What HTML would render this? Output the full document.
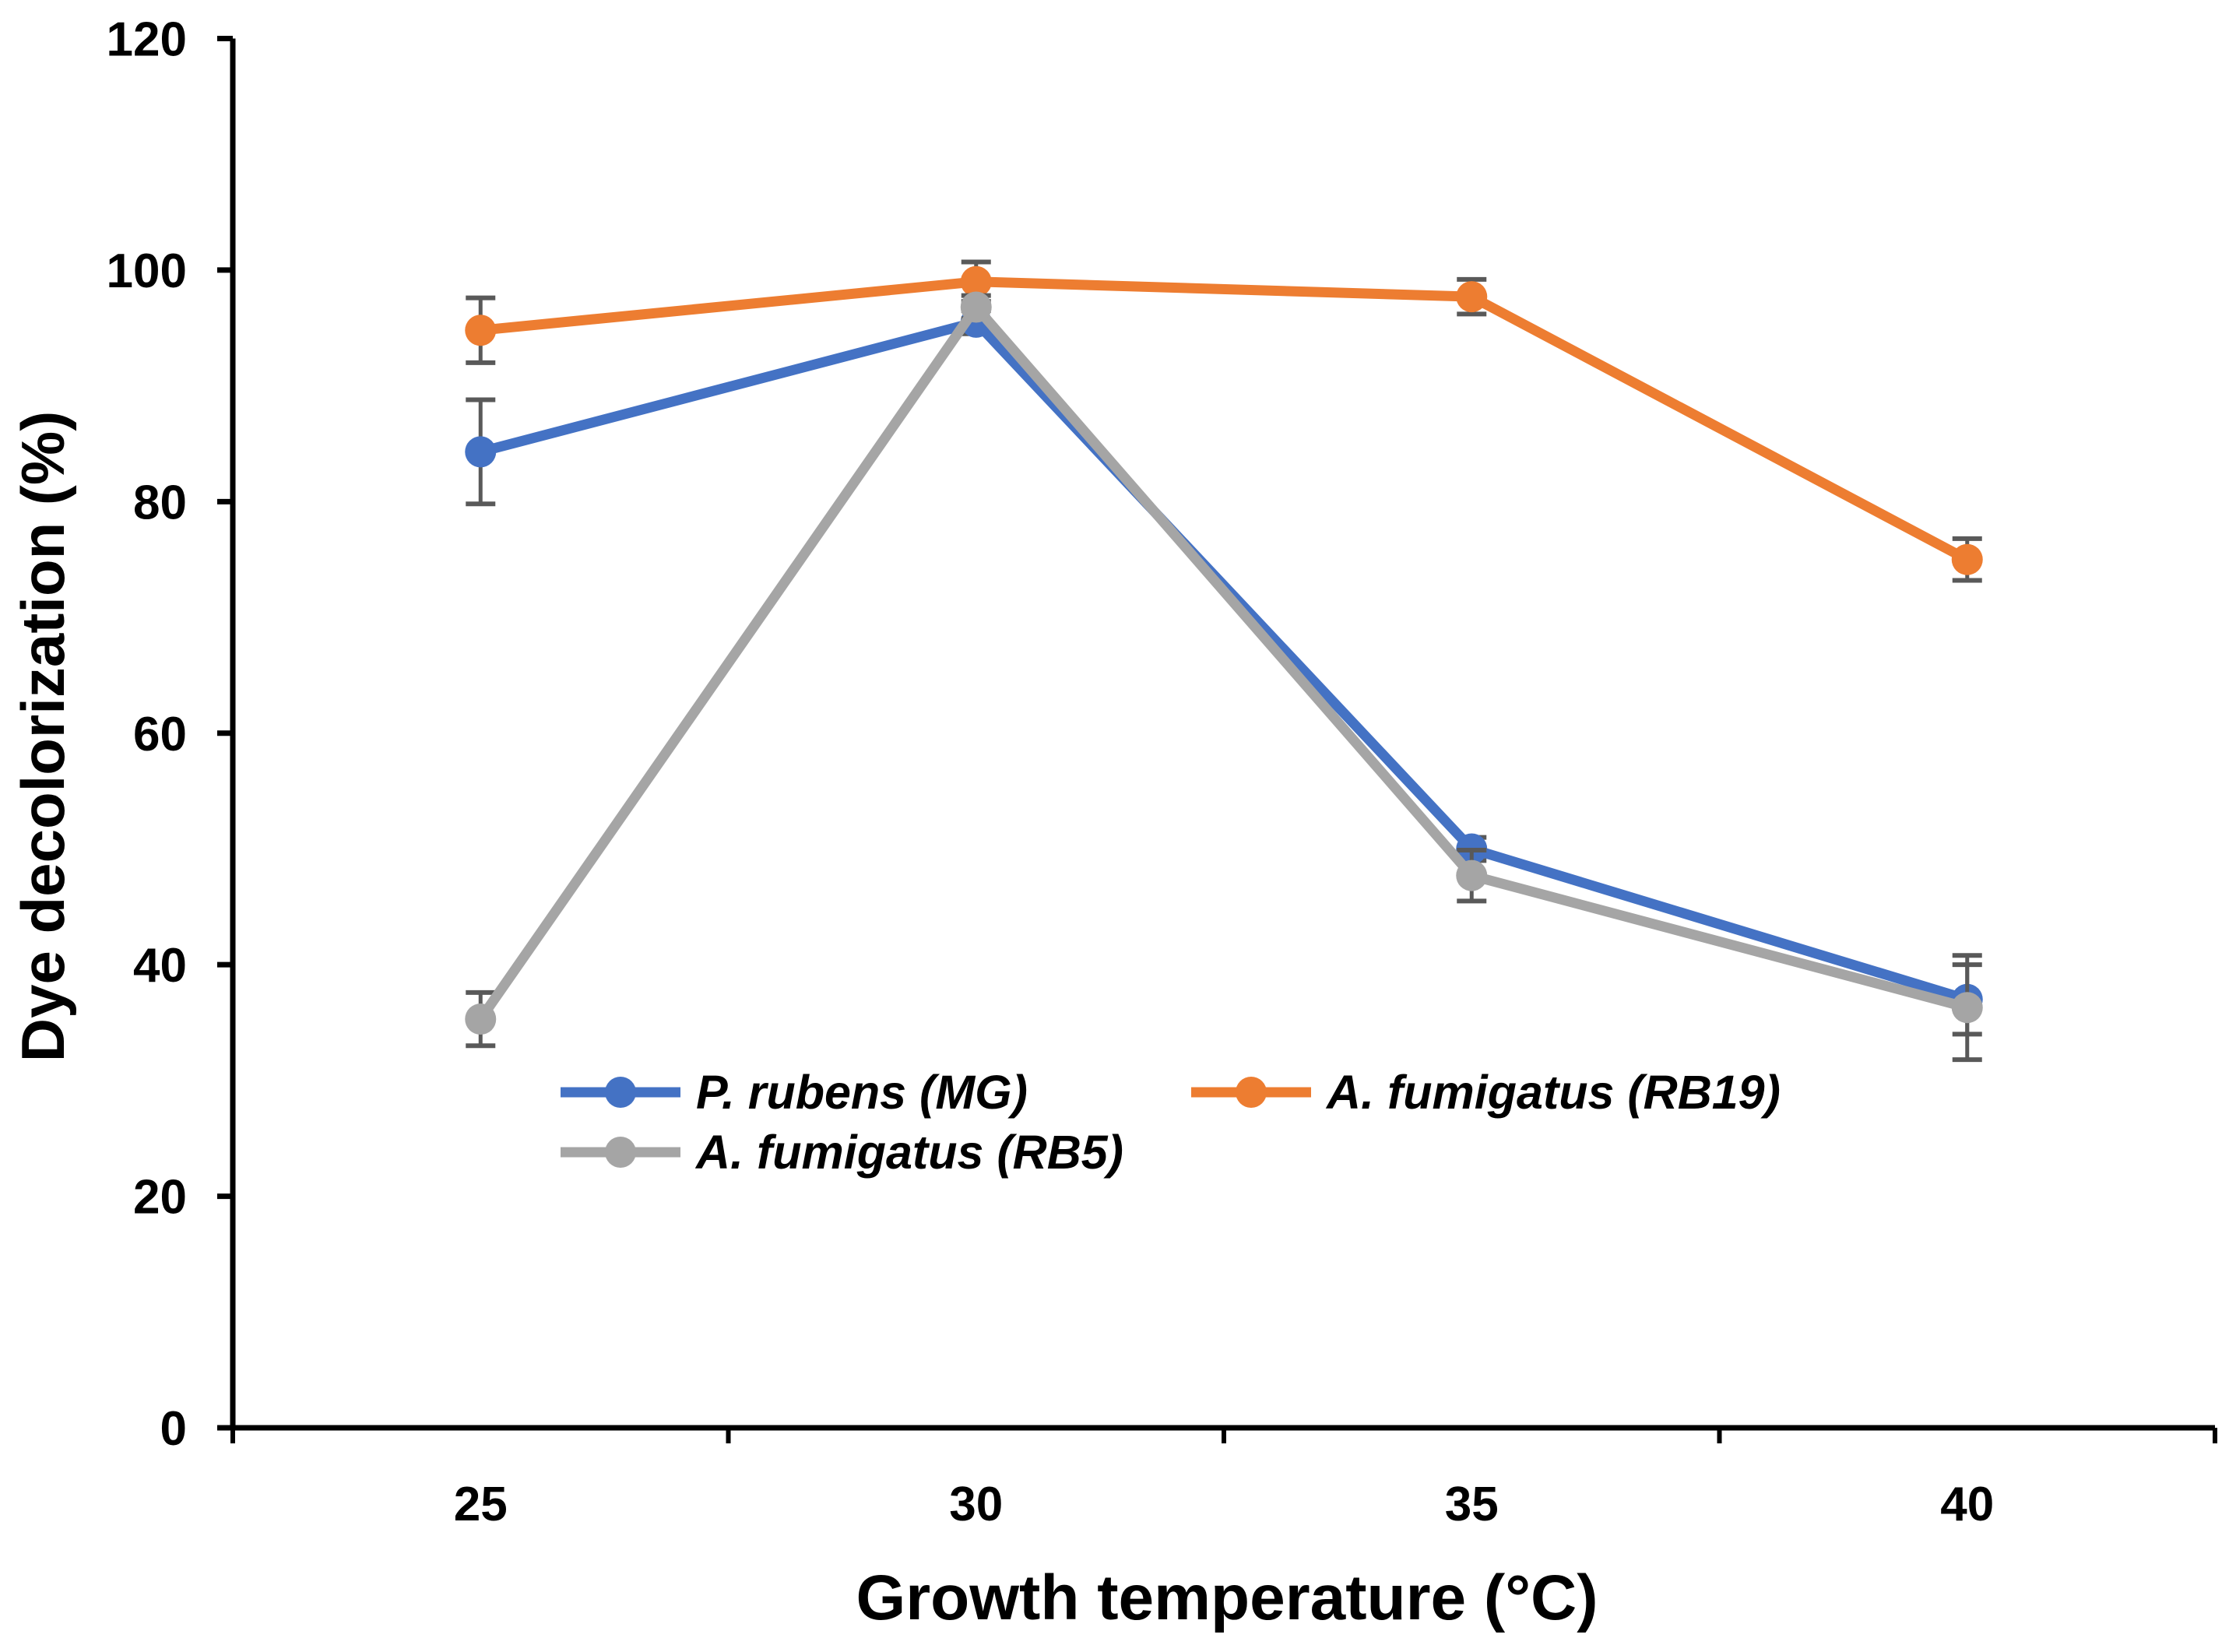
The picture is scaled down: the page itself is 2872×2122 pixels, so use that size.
<!DOCTYPE html>
<html><head><meta charset="utf-8"><style>
html,body{margin:0;padding:0;background:#fff;}
svg text{font-family:"Liberation Sans",sans-serif;font-weight:bold;fill:#000;}
</style></head><body>
<svg id="chart" width="2872" height="2117" viewBox="0 0 2872 2117">
<g id="axes"></g><g id="series"></g><g id="legend"></g>
</svg>
<script>
const categories = ["25","30","35","40"];
const yTicks = [0,20,40,60,80,100,120];
const seriesNames = ["P. rubens (MG)","A. fumigatus (RB19)","A. fumigatus (RB5)"];
const seriesColors = ["#4472C4","#ED7D31","#A5A5A5"];
const blueVals = [84.3,95.5,50.0,37.0];
const blueErr = [4.5,1.0,1.0,3.0];
const orangeVals = [94.8,99.0,97.7,75.0];
const orangeErr = [2.8,1.7,1.5,1.8];
const grayVals = [35.3,96.8,47.7,36.3];
const grayErr = [2.3,1.0,2.2,4.5];

const NS="http://www.w3.org/2000/svg";
const X0=299, X1=2845, Y0=1834, Y120=49.5;
const band=(X1-X0)/categories.length;
function xs(i){return X0+(i+0.5)*band;}
function ys(v){return Y0-(v/120)*(Y0-Y120);}
function mk(tag,attrs,parent){const e=document.createElementNS(NS,tag);for(const k in attrs)e.setAttribute(k,attrs[k]);parent.appendChild(e);return e;}
const axes=document.getElementById('axes'), ser=document.getElementById('series'), leg=document.getElementById('legend');

let e=mk('line',{x1:X0,y1:Y120,x2:X0,y2:Y0+3,stroke:'#000','stroke-width':7},axes);


e=mk('line',{x1:X0-20,y1:Y0,x2:X1,y2:Y0,stroke:'#000','stroke-width':7},axes);


yTicks.forEach(v=>{
  const y=ys(v);
  mk('line',{x1:X0-20,y1:y,x2:X0,y2:y,stroke:'#000','stroke-width':7},axes);
  const t=mk('text',{x:240,y:y+22,'text-anchor':'end','font-size':62},axes);
  t.textContent=v;
  
  
});
for(let i=0;i<=categories.length;i++){
  mk('line',{x1:X0+i*band,y1:Y0,x2:X0+i*band,y2:Y0+20,stroke:'#000','stroke-width':6},axes);
}
categories.forEach((c,i)=>{
  const t=mk('text',{x:xs(i),y:1953,'text-anchor':'middle','font-size':62},axes);
  t.textContent=c;
  
  
});
let t=mk('text',{x:1576,y:2080,'text-anchor':'middle','font-size':82},axes);
t.textContent="Growth temperature (°C)";


t=mk('text',{x:0,y:0,'text-anchor':'middle','font-size':78,transform:'translate(82,946) rotate(-90)'},axes);
t.textContent="Dye decolorization (%)";



function drawSeries(vals,errs,color,name){
  const g=mk('g',{},ser);
  
  
  vals.forEach((v,i)=>{
    const x=xs(i);
    mk('line',{x1:x,y1:ys(v+errs[i]),x2:x,y2:ys(v-errs[i]),stroke:'#595959','stroke-width':5},g);
    mk('line',{x1:x-19,y1:ys(v+errs[i]),x2:x+19,y2:ys(v+errs[i]),stroke:'#595959','stroke-width':6},g);
    mk('line',{x1:x-19,y1:ys(v-errs[i]),x2:x+19,y2:ys(v-errs[i]),stroke:'#595959','stroke-width':6},g);
  });
  mk('polyline',{points:vals.map((v,i)=>xs(i)+','+ys(v)).join(' '),fill:'none',stroke:color,'stroke-width':13,'stroke-linejoin':'round'},g);
  vals.forEach((v,i)=>{
    const c=mk('circle',{cx:xs(i),cy:ys(v),r:20,fill:color},g);
    
    
  });
}
drawSeries(blueVals,blueErr,seriesColors[0],'series-p-rubens-mg');
drawSeries(orangeVals,orangeErr,seriesColors[1],'series-a-fumigatus-rb19');
drawSeries(grayVals,grayErr,seriesColors[2],'series-a-fumigatus-rb5');

const legPos=[[720,1403],[1530,1403],[720,1480]];
seriesNames.forEach((n,i)=>{
  const [x,y]=legPos[i];
  const g=mk('g',{},leg);
  
  
  mk('line',{x1:x,y1:y,x2:x+154,y2:y,stroke:seriesColors[i],'stroke-width':13},g);
  mk('circle',{cx:x+77,cy:y,r:20,fill:seriesColors[i]},g);
  const tt=mk('text',{x:x+174,y:y+21,'font-size':61,'font-style':'italic'},g);
  tt.textContent=n;
});
</script>
</body></html>
